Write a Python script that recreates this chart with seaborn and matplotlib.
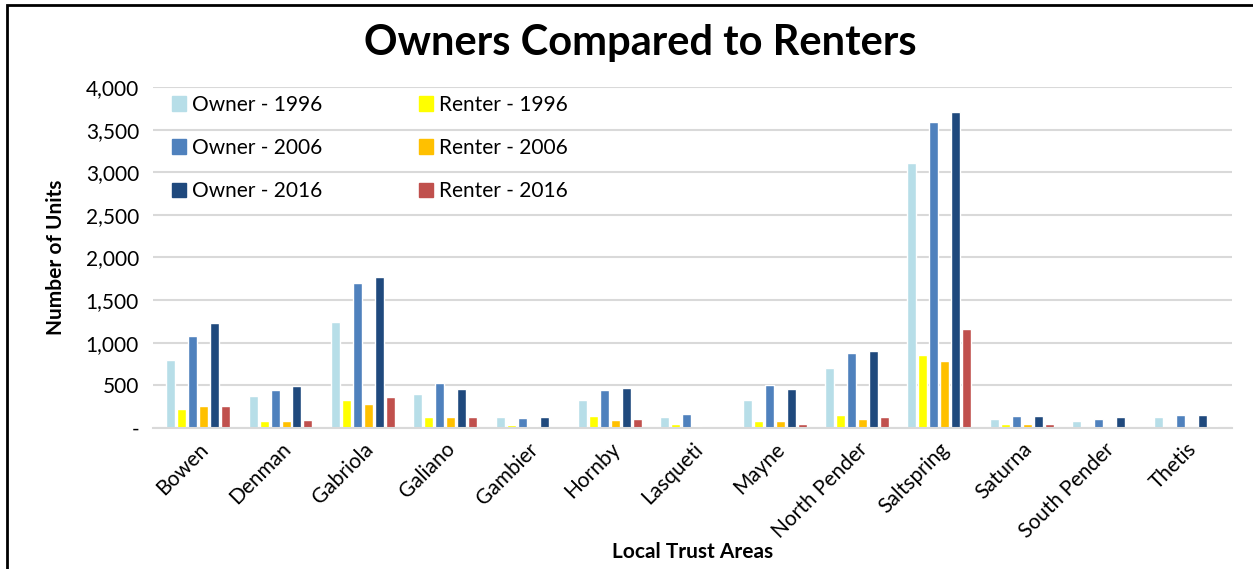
import pandas as pd
import matplotlib.pyplot as plt
import seaborn as sns
from matplotlib.ticker import FuncFormatter
from matplotlib.patches import Rectangle

areas = ['Bowen', 'Denman', 'Gabriola', 'Galiano', 'Gambier', 'Hornby', 'Lasqueti',
         'Mayne', 'North Pender', 'Saltspring', 'Saturna', 'South Pender', 'Thetis']

owner_1996 = [800, 380, 1245, 395, 125, 325, 122, 333, 700, 3105, 102, 80, 132]
renter_1996 = [225, 82, 328, 125, 32, 137, 40, 75, 148, 852, 43, 0, 5]
owner_2006 = [1082, 442, 1696, 528, 114, 444, 168, 500, 883, 3594, 137, 102, 156]
renter_2006 = [258, 82, 285, 125, 23, 90, 20, 78, 101, 787, 47, 20, 5]
owner_2016 = [1227, 496, 1774, 454, 122, 463, 0, 452, 900, 3713, 137, 126, 156]
renter_2016 = [258, 94, 363, 125, 8, 110, 0, 40, 132, 1158, 43, 0, 20]

series = {
    'Owner - 1996': owner_1996,
    'Renter - 1996': renter_1996,
    'Owner - 2006': owner_2006,
    'Renter - 2006': renter_2006,
    'Owner - 2016': owner_2016,
    'Renter - 2016': renter_2016,
}
colors = {
    'Owner - 1996': '#B7DEE8',
    'Renter - 1996': '#FFFF00',
    'Owner - 2006': '#4F81BD',
    'Renter - 2006': '#FFC000',
    'Owner - 2016': '#1F497D',
    'Renter - 2016': '#C0504D',
}

rows = []
for name, vals in series.items():
    for a, v in zip(areas, vals):
        rows.append({'Area': a, 'Series': name, 'Units': v})
df = pd.DataFrame(rows)

sns.set_style('white')
plt.rcParams['font.family'] = ['Lato', 'DejaVu Sans']
plt.rcParams.update({'text.color': 'black', 'axes.labelcolor': 'black',
                     'xtick.color': 'black', 'ytick.color': 'black'})

fig = plt.figure(figsize=(12.53, 5.69), dpi=100)
ax = fig.add_axes([0.122, 0.248, 0.861, 0.599])

sns.barplot(data=df, x='Area', y='Units', hue='Series', order=areas,
            hue_order=list(series.keys()), palette=colors, saturation=1,
            width=0.8, gap=0.18, ax=ax, legend=False)

ax.set_ylim(0, 4000)
ax.set_xlim(-0.55, len(areas) - 0.45)
ax.set_yticks(range(0, 4001, 500))
ax.yaxis.set_major_formatter(FuncFormatter(lambda v, p: '-' if v == 0 else f'{int(v):,}'))
ax.grid(axis='y', color='#D9D9D9', linewidth=1.5)
ax.set_axisbelow(True)
for s in ['top', 'right', 'left']:
    ax.spines[s].set_visible(False)
ax.spines['bottom'].set_color('#D9D9D9')
ax.spines['bottom'].set_linewidth(1.5)
ax.tick_params(axis='y', length=0, labelsize=15, pad=10)
ax.tick_params(axis='x', length=0, labelsize=15, pad=8)
plt.setp(ax.get_xticklabels(), rotation=45, ha='right', rotation_mode='anchor')

ax.set_xlabel('Local Trust Areas', fontsize=15, fontweight='bold', labelpad=0)
ax.set_ylabel('Number of Units', fontsize=15, fontweight='bold', labelpad=14)

fig.text(0.511, 0.925, 'Owners Compared to Renters', ha='center', va='center',
         fontsize=30, fontweight='bold')

# legend: owners in left column, renters in right column
order = ['Owner - 1996', 'Owner - 2006', 'Owner - 2016',
         'Renter - 1996', 'Renter - 2006', 'Renter - 2016']
handles = [Rectangle((0, 0), 1, 1, color=colors[k]) for k in order]
ax.legend(handles, order, ncol=2, loc='upper left', bbox_to_anchor=(0.0, 1.033),
          frameon=False, fontsize=15, handlelength=0.7, handleheight=0.7,
          handletextpad=0.3, columnspacing=4.6, labelspacing=1.12)

fig.add_artist(Rectangle((7 / 1253, -0.1), 1.2, 1.1 - 5 / 569, transform=fig.transFigure,
                         fill=False, edgecolor='black', linewidth=2))

fig.savefig('out.png', dpi=100)
